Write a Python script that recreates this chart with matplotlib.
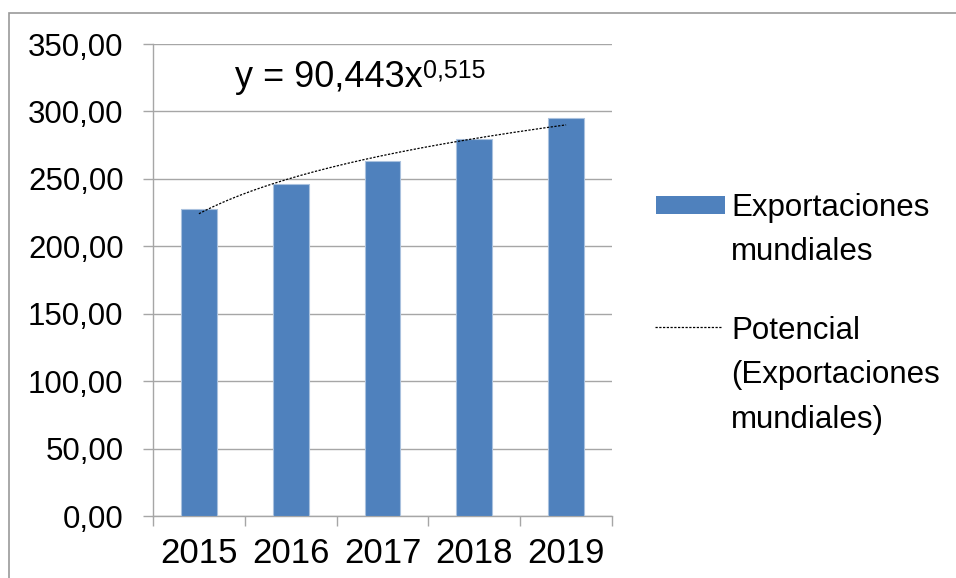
import numpy as np
import matplotlib.pyplot as plt
from matplotlib.patches import Rectangle
from matplotlib.lines import Line2D

plt.rcParams['font.family'] = ['Liberation Sans', 'DejaVu Sans']

years = ["2015", "2016", "2017", "2018", "2019"]
exports = [227.4, 246.1, 263.6, 279.5, 295.3]
y_ticks = [0, 50, 100, 150, 200, 250, 300, 350]
y_tick_labels = ["0,00", "50,00", "100,00", "150,00", "200,00",
                 "250,00", "300,00", "350,00"]
equation = "y = 90,443x"
exponent = "0,515"
legend_bar = "Exportaciones\nmundiales"
legend_trend = "Potencial\n(Exportaciones\nmundiales)"

W, H = 956, 578
BLUE = "#4F81BD"
GRID = "#a6a6a6"


def fx(px):
    return px / W


def fy(py):
    return 1 - py / H


def main():
    fig = plt.figure(figsize=(W / 100, H / 100), dpi=100)
    ax = fig.add_axes([fx(153), fy(516), fx(612) - fx(153), fy(44) - fy(516)])

    x = np.arange(len(years))
    ax.bar(x, exports, width=0.39, color=BLUE, edgecolor="#a9c1de",
           linewidth=0.8, zorder=3)

    # power trendline, fitted on x = 1..n like the spreadsheet does
    n = np.arange(1, len(exports) + 1)
    b, ln_a = np.polyfit(np.log(n), np.log(exports), 1)
    xs = np.linspace(1, len(exports), 200)
    ax.plot(xs - 1, np.exp(ln_a) * xs ** b, color="black", lw=0.9,
            linestyle=(0, (1.8, 1.2)), zorder=4)

    ax.set_xlim(-0.5, len(years) - 0.5)
    ax.set_ylim(0, 350)
    ax.set_yticks(y_ticks)
    ax.set_yticklabels(y_tick_labels)
    ax.set_xticks(x)
    ax.set_xticklabels(years)
    ax.set_xticks(np.arange(-0.5, len(years)), minor=True)
    ax.tick_params(axis="x", which="major", length=0, pad=15, labelsize=25)
    ax.tick_params(axis="x", which="minor", length=7.2, color=GRID, width=1)
    ax.tick_params(axis="y", length=7.2, color=GRID, width=1, pad=14,
                   labelsize=22.5)
    ax.yaxis.grid(True, color=GRID, lw=1)
    ax.set_axisbelow(True)
    for s in ["top", "right"]:
        ax.spines[s].set_visible(False)
    for s in ["left", "bottom"]:
        ax.spines[s].set_color(GRID)
        ax.spines[s].set_linewidth(1)

    # equation label
    t = fig.text(fx(235), fy(87), equation, fontsize=26, va="baseline")
    ax.annotate(exponent, xy=(1, 1), xycoords=t, xytext=(0.5, 1),
                textcoords="offset points", ha="left", va="top", fontsize=18)

    # legend drawn by hand so handles line up with the first text line
    fig.patches.append(Rectangle((fx(656), fy(214)), 69 / W, 18 / H,
                                 transform=fig.transFigure,
                                 facecolor=BLUE, edgecolor="none"))
    fig.lines.append(Line2D([fx(655), fx(722)], [fy(327), fy(327)],
                            transform=fig.transFigure, color="black", lw=0.9,
                            linestyle=(0, (1.8, 1.2))))
    fig.text(fx(731), fy(193), legend_bar, fontsize=22.5, va="top",
             linespacing=1.62)
    fig.text(fx(731), fy(316), legend_trend, fontsize=22.5, va="top",
             linespacing=1.62)

    # outer chart border
    fig.patches.append(Rectangle((fx(9), -0.1), 2, fy(13) + 0.1,
                                 transform=fig.transFigure, fill=False,
                                 edgecolor="#999999", lw=1.2))

    fig.savefig("out.png", dpi=100)


if __name__ == "__main__":
    main()
